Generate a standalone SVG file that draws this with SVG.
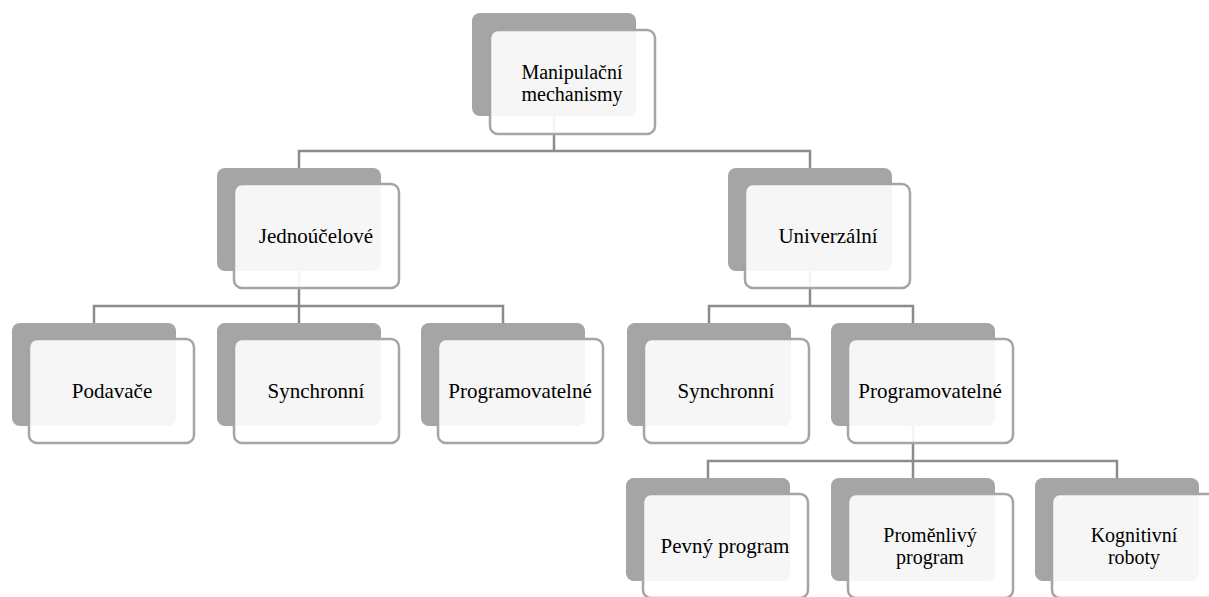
<svg xmlns="http://www.w3.org/2000/svg" width="1209" height="597" viewBox="0 0 1209 597">
<style>
.back{fill:#a5a5a5;}
.front{fill:#ffffff;fill-opacity:0.9;stroke:#a5a5a5;stroke-width:2.5;}
.lbl{font-family:"Liberation Serif","Times New Roman",serif;font-size:21px;fill:#000;text-anchor:middle;}
.two{font-size:20px;}
.conn{fill:none;stroke:#8c8c8c;stroke-width:2.5;}
</style>
<rect width="1209" height="597" fill="#ffffff"/>
<g id="connectors">
<path class="conn" d="M554 115 V151 M299 168 V151 H810 V168"/>
<path class="conn" d="M299 270 V323 M94 323 V306 H503 V323"/>
<path class="conn" d="M810 270 V306 M709 323 V306 H913 V323"/>
<path class="conn" d="M913 426 V478 M708 478 V461 H1117 V478"/>
</g>
<g id="n-root">
<rect class="back" x="472" y="13" width="164" height="103" rx="8"/>
<rect class="front" x="490" y="30" width="165" height="104" rx="8"/>
<text class="lbl two" x="572" y="79">Manipulační</text>
<text class="lbl two" x="572" y="101">mechanismy</text>
</g>
<g id="n-jednoucelove">
<rect class="back" x="217" y="168" width="164" height="103" rx="8"/>
<rect class="front" x="234" y="184" width="165" height="104" rx="8"/>
<text class="lbl" x="316" y="243">Jednoúčelové</text>
</g>
<g id="n-univerzalni">
<rect class="back" x="728" y="168" width="164" height="103" rx="8"/>
<rect class="front" x="745" y="184" width="165" height="104" rx="8"/>
<text class="lbl" x="828" y="243">Univerzální</text>
</g>
<g id="n-podavace">
<rect class="back" x="12" y="323" width="164" height="103" rx="8"/>
<rect class="front" x="29" y="339" width="165" height="104" rx="8"/>
<text class="lbl" x="112" y="398">Podavače</text>
</g>
<g id="n-synchronni1">
<rect class="back" x="217" y="323" width="164" height="103" rx="8"/>
<rect class="front" x="234" y="339" width="165" height="104" rx="8"/>
<text class="lbl" x="316" y="398">Synchronní</text>
</g>
<g id="n-programovatelne1">
<rect class="back" x="421" y="323" width="164" height="103" rx="8"/>
<rect class="front" x="438" y="339" width="165" height="104" rx="8"/>
<text class="lbl" x="520" y="398">Programovatelné</text>
</g>
<g id="n-synchronni2">
<rect class="back" x="627" y="323" width="164" height="103" rx="8"/>
<rect class="front" x="644" y="339" width="165" height="104" rx="8"/>
<text class="lbl" x="726" y="398">Synchronní</text>
</g>
<g id="n-programovatelne2">
<rect class="back" x="831" y="323" width="164" height="103" rx="8"/>
<rect class="front" x="848" y="339" width="165" height="104" rx="8"/>
<text class="lbl" x="930" y="398">Programovatelné</text>
</g>
<g id="n-pevny">
<rect class="back" x="626" y="478" width="164" height="103" rx="8"/>
<rect class="front" x="643" y="494" width="165" height="104" rx="8"/>
<text class="lbl" x="725" y="553">Pevný program</text>
</g>
<g id="n-promenlivy">
<rect class="back" x="831" y="478" width="164" height="103" rx="8"/>
<rect class="front" x="848" y="494" width="165" height="104" rx="8"/>
<text class="lbl two" x="930" y="542">Proměnlivý</text>
<text class="lbl two" x="930" y="564">program</text>
</g>
<g id="n-kognitivni">
<rect class="back" x="1035" y="478" width="164" height="103" rx="8"/>
<rect class="front" x="1052" y="494" width="165" height="104" rx="8"/>
<text class="lbl two" x="1134" y="542">Kognitivní</text>
<text class="lbl two" x="1134" y="564">roboty</text>
</g>
</svg>
